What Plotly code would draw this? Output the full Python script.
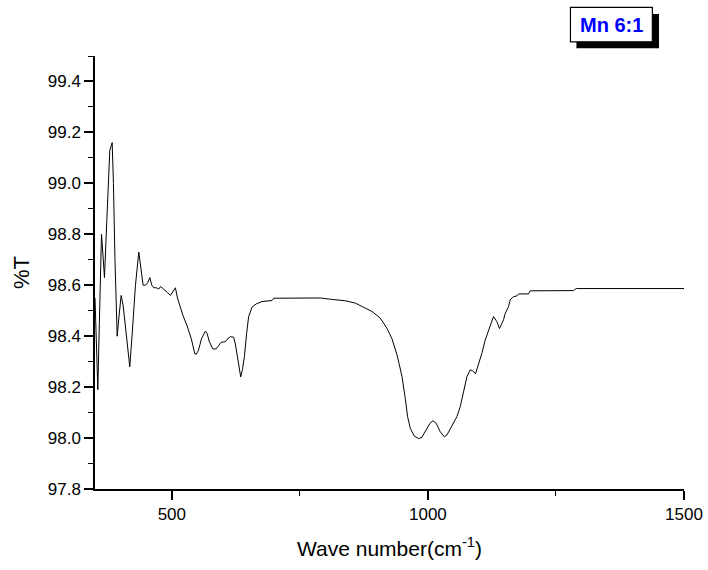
import plotly.graph_objects as go

wavenumber = [350, 352.5, 355.5, 358.5, 362.7, 365.5, 368.5, 373, 378.9, 383.5, 386, 389,
              393.3, 397, 401.1, 405, 410, 417.9, 423, 429, 435.5, 440, 444, 448.5, 453,
              457, 461, 464.7, 470, 474.5, 478, 481, 487.5, 492, 497.3, 502, 507, 511,
              516.8, 522, 529.9, 538, 545, 548, 552, 558, 565.6, 569, 573, 579.9, 586.5,
              591.6, 596.2, 604.6, 608, 614.4, 620.8, 624, 627.5, 631, 634.5, 638, 641.7,
              646, 650, 656.7, 665, 676, 695.7, 699, 750, 790, 809.5, 838.7, 858, 874.5,
              890.8, 907, 920, 929.8, 936.3, 939.6, 944, 949.4, 955.8, 960.3, 965.6,
              973.4, 981.8, 988.4, 993, 998.1, 1004, 1009.8, 1016.3, 1024, 1031.9,
              1037.1, 1046.9, 1056.6, 1063.1, 1069.5, 1076.2, 1082.6, 1087.5, 1092.9,
              1098.8, 1105.4, 1111.9, 1118.3, 1124, 1128.1, 1134.7, 1139.8, 1147.6, 1151,
              1157.4, 1160.7, 1167.1, 1173.7, 1177, 1196.3, 1199.7, 1284.2, 1289.5, 1500]

transmittance = [98.55, 98.35, 98.19, 98.45, 98.80, 98.72, 98.63, 98.85, 99.13, 99.16, 99.0,
                 98.7, 98.40, 98.48, 98.56, 98.52, 98.42, 98.28, 98.42, 98.60, 98.73,
                 98.65, 98.60, 98.60, 98.61, 98.63, 98.60, 98.59, 98.59, 98.585, 98.595,
                 98.59, 98.58, 98.57, 98.56, 98.575, 98.59, 98.55, 98.51, 98.48, 98.44,
                 98.39, 98.33, 98.33, 98.345, 98.39, 98.42, 98.41, 98.38, 98.35, 98.35,
                 98.366, 98.376, 98.378, 98.388, 98.398, 98.396, 98.37, 98.32, 98.27,
                 98.24, 98.27, 98.32, 98.41, 98.477, 98.514, 98.527, 98.536, 98.54,
                 98.549, 98.55, 98.55, 98.545, 98.539, 98.53, 98.514, 98.497, 98.471,
                 98.431, 98.39, 98.353, 98.327, 98.29, 98.241, 98.156, 98.084, 98.038,
                 98.008, 97.998, 98.003, 98.02, 98.038, 98.058, 98.068, 98.058, 98.025,
                 98.005, 98.012, 98.048, 98.084, 98.123, 98.176, 98.241, 98.268, 98.264,
                 98.252, 98.287, 98.333, 98.385, 98.425, 98.46, 98.477, 98.457, 98.43,
                 98.464, 98.49, 98.516, 98.543, 98.555, 98.558, 98.566, 98.566, 98.578,
                 98.579, 98.587, 98.587]

x_ticks = [500, 1000, 1500]
y_ticks = [97.8, 98.0, 98.2, 98.4, 98.6, 98.8, 99.0, 99.2, 99.4]
label_text = "Mn 6:1"

fig = go.Figure()
fig.add_trace(go.Scatter(x=wavenumber, y=transmittance, mode="lines",
                         line=dict(color="black", width=1), showlegend=False))

font_family = "Liberation Sans, Arial, sans-serif"

fig.update_layout(
    width=708, height=570,
    margin=dict(l=95, r=24, t=56, b=81),
    paper_bgcolor="white", plot_bgcolor="white",
    font=dict(family=font_family, color="black", size=17),
    xaxis=dict(range=[350, 1500], tickvals=x_ticks, ticktext=[str(v) for v in x_ticks],
               showline=True, linecolor="black", linewidth=1.5, ticks="outside",
               ticklen=9, tickwidth=1.5, tickcolor="black", showgrid=False, zeroline=False,
               minor=dict(ticks="outside", ticklen=5, tickwidth=1.2, dtick=250, tick0=0,
                          tickcolor="black"),
               title=dict(text="Wave number(cm<sup>-1</sup>)", font=dict(size=21), standoff=18),
               automargin=False),
    yaxis=dict(range=[97.8, 99.5], tickvals=y_ticks, ticktext=[f"{v:.1f}" for v in y_ticks],
               showline=True, linecolor="black", linewidth=1.5, ticks="outside",
               ticklen=9, tickwidth=1.5, tickcolor="black", showgrid=False, zeroline=False,
               minor=dict(ticks="outside", ticklen=5, tickwidth=1.2, dtick=0.1, tick0=97.8,
                          tickcolor="black"),
               title=dict(text="%T", font=dict(size=22), standoff=12),
               automargin=False),
)

# legend-like label box with drop shadow
fig.add_shape(type="rect", xref="paper", yref="paper", x0=0.8174, x1=0.9576, y0=1.0178, y1=1.097,
              fillcolor="black", line=dict(width=0), layer="above")
fig.add_shape(type="rect", xref="paper", yref="paper", x0=0.8072, x1=0.9463, y0=1.0328, y1=1.1125,
              fillcolor="white", line=dict(color="black", width=1.2), layer="above")
fig.add_annotation(xref="paper", yref="paper", x=(0.8072 + 0.9463) / 2, y=(1.0328 + 1.1125) / 2,
                   text=f"<b>{label_text}</b>", showarrow=False,
                   font=dict(family=font_family, size=20, color="#0000FF"),
                   xanchor="center", yanchor="middle")

fig.write_html("out.html")
